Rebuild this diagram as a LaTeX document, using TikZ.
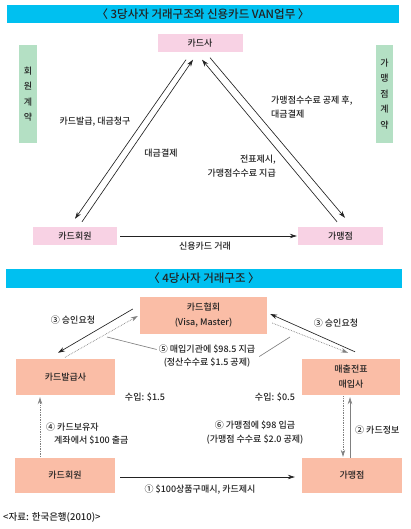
\documentclass[tikz,border=0pt]{standalone}
\usepackage{fontspec}
\setmainfont{Noto Sans CJK KR}[UprightFont={* Medium}]
\usepackage{xcolor}
\usetikzlibrary{arrows.meta, positioning}

\definecolor{bannercyan}{HTML}{00C0F0}
\definecolor{cardpink}{HTML}{F8D2E4}
\definecolor{contractgreen}{HTML}{B4E0C4}
\definecolor{boxsalmon}{HTML}{FABDA6}
\definecolor{inkgray}{HTML}{222222}

\begin{document}
\begin{tikzpicture}[x=1pt, y=-1pt, >={Stealth[length=7pt, width=4.5pt]},
    font=\fontsize{9}{14}\selectfont, text=inkgray,
    banner/.style={fill=bannercyan, minimum width=392pt, minimum height=18pt, inner sep=0pt, font=\fontsize{11.5}{12}\selectfont},
    pinkbox/.style={fill=cardpink, minimum width=85pt, minimum height=18pt, inner sep=0pt},
    greenbar/.style={fill=contractgreen, minimum width=18pt, minimum height=98pt, inner sep=0pt, align=center, font=\fontsize{9}{15.4}\selectfont},
    salmonbox/.style={fill=boxsalmon, minimum width=100pt, minimum height=36pt, inner sep=0pt, align=center, font=\fontsize{9}{15}\selectfont},
    flow/.style={draw=inkgray, line width=0.65pt},
    dotflow/.style={draw=gray, densely dotted, line width=0.7pt},
    lbl/.style={inner sep=1pt, align=center}]
    \useasboundingbox (0,0) rectangle (410,529);

    % Nodes (3 parties)
    \node[banner] (title3) at (203,14) {〈 3당사자 거래구조와 신용카드 VAN업무 〉};
    \node[pinkbox] (cardco) at (200,43.5) {카드사};
    \node[pinkbox, minimum width=84pt] (member) at (75,236) {카드회원};
    \node[pinkbox] (shop) at (340.5,236) {가맹점};
    \node[greenbar] (membercontract) at (28,94) {회\\원\\계\\약};
    \node[greenbar, minimum width=17pt] (shopcontract) at (384.5,94) {가\\맹\\점\\계\\약};

    \node[lbl] (issuebill) at (95,122) {카드발급, 대금청구};
    \node[lbl] (settle) at (161,153) {대금결제};
    \node[lbl, align=left, anchor=west] (feepay) at (270,107) {가맹점수수료 공제 후,\\대금결제};
    \node[lbl, align=right, anchor=east] (slip) at (277,166) {전표제시,\\가맹점수수료 지급};
    \node[lbl] (cardtrade) at (205,246.5) {신용카드 거래};

    % Paths (3 parties)
    \draw[flow, ->] ([shift={(-14,7)}]cardco.south) -- ([shift={(0,-8)}]member.north);
    \draw[flow, ->] ([shift={(7,-5)}]member.north) -- ([shift={(-7,7)}]cardco.south);
    \draw[flow, ->] ([shift={(-3.5,-5)}]shop.north) -- ([shift={(2,7)}]cardco.south);
    \draw[flow, ->] ([shift={(10,5)}]cardco.south) -- ([shift={(4.5,-9)}]shop.north);
    \draw[flow, ->] ([shift={(3,0)}]member.east) -- ([shift={(-1,0)}]shop.west);

    % Nodes (4 parties)
    \node[banner, minimum width=396pt, minimum height=19pt] (title4) at (204,278) {〈 4당사자 거래구조 〉};
    \node[salmonbox, minimum width=127pt, minimum height=37pt] (assoc) at (203.5,315.5) {카드협회\\(Visa, Master)};
    \node[salmonbox, minimum width=99pt] (issuer) at (65.5,377) {카드발급사};
    \node[salmonbox, minimum width=98pt] (acquirer) at (351,377) {매출전표\\매입사};
    \node[salmonbox, minimum height=35pt] (holder) at (65,475.5) {카드회원};
    \node[salmonbox, minimum height=35pt] (merchant) at (352,475.5) {가맹점};

    \node[lbl] (authleft) at (73,320) {③ 승인요청};
    \node[lbl] (authright) at (336,323) {③ 승인요청};
    \node[lbl, font=\fontsize{9}{13}\selectfont] (pay5) at (207,356.5) {⑤ 매입기관에 \$98.5 지급\\(정산수수료 \$1.5 공제)};
    \node[lbl] (income1) at (145,397) {수입: \$1.5};
    \node[lbl] (income2) at (275,397) {수입: \$0.5};
    \node[lbl, align=left, anchor=west, font=\fontsize{9}{13}\selectfont] (withdraw) at (45,433.5) {④ 카드보유자\\\hspace{8pt}계좌에서 \$100 출금};
    \node[lbl] (deposit) at (255,432.5) {⑥ 가맹점에 \$98 입금\\(가맹점 수수료 \$2.0 공제)};
    \node[lbl, anchor=west] (cardinfo) at (354,430) {② 카드정보};
    \node[lbl] (purchase) at (200,489.5) {① \$100상품구매시, 카드제시};
    \node[lbl, anchor=west, font=\fontsize{9.5}{12}\selectfont] (source) at (2,517) {<자료: 한국은행(2010)>};

    \coordinate (p5left) at (107,337);
    \coordinate (p5right) at (290,337);

    % Paths (4 parties)
    \draw[flow, ->] ([shift={(-7,-6.5)}]assoc.west) -- ([shift={(-7.5,-6)}]issuer.north);
    \draw[dotflow, ->] ([shift={(-0.5,-1.5)}]issuer.north) -- ([shift={(-2,0.5)}]assoc.west);
    \draw[flow, ->] ([shift={(4,-7)}]acquirer.north) -- ([shift={(3,-1.5)}]assoc.east);
    \draw[dotflow, ->] ([shift={(5,7.5)}]assoc.east) -- ([shift={(-3,-6)}]acquirer.north);
    \draw[flow, draw=gray] (p5left) -- ([shift={(-1,-7)}]pay5.west);
    \draw[flow, draw=gray] ([shift={(3,0)}]pay5.east) -- (p5right);
    \draw[dotflow, ->] ([shift={(-25,-1)}]holder.north) -- ([shift={(-25.5,2)}]issuer.south);
    \draw[dotflow, ->] ([shift={(-8,1)}]acquirer.south) -- ([shift={(-9,-1)}]merchant.north);
    \draw[flow, draw=gray, ->] ([shift={(-2,0)}]merchant.north) -- ([shift={(-1,2)}]acquirer.south);
    \draw[flow, ->] ([shift={(5,1.5)}]holder.east) -- ([shift={(-7,1.5)}]merchant.west);
\end{tikzpicture}
\end{document}
